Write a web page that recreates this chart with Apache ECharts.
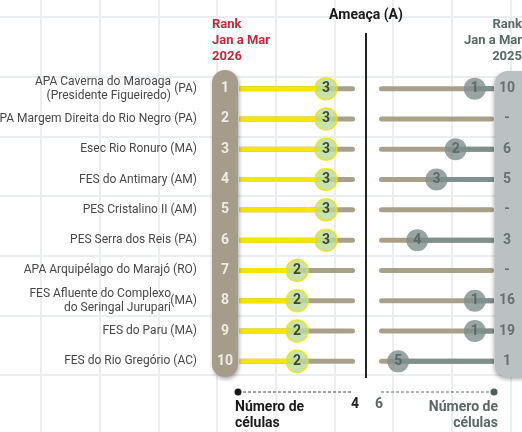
<!DOCTYPE html>
<html>
<head>
<meta charset="utf-8">
<script src="https://cdn.jsdelivr.net/npm/echarts@6/dist/echarts.min.js"></script>
<style>
html,body{margin:0;padding:0;background:#fff}
#main{width:522px;height:432px}
</style>
</head>
<body>
<div id="main"></div>
<script>
// unidades de conservação - ameaça (número de células)
var names = [
	'APA Caverna do Maroaga\n(Presidente Figueiredo)',
	'APA Margem Direita do Rio Negro (PA)',
	'Esec Rio Ronuro (MA)',
	'FES do Antimary (AM)',
	'PES Cristalino II (AM)',
	'PES Serra dos Reis (PA)',
	'APA Arquipélago do Marajó (RO)',
	'FES Afluente do Complexo\ndo Seringal Jurupari',
	'FES do Paru (MA)',
	'FES do Rio Gregório (AC)'
];
var sideTags = ['(PA)', '', '', '', '', '', '', '(MA)', '', ''];
var rank2026 = ['1', '2', '3', '4', '5', '6', '7', '8', '9', '10'];
var ameaca2026 = [3, 3, 3, 3, 3, 3, 2, 2, 2, 2];
var rank2025 = ['10', '-', '6', '5', '-', '3', '-', '16', '19', '1'];
var ameaca2025 = [1, '-', 2, 3, '-', 4, '-', 1, 1, 5];
var maxLeft = 4;
var maxRight = 6;

var TAN = '#a9a08a', YELLOW = '#f6e500', GREEN = '#b8dc9a', SLATE = '#7e8f8c', DARK = '#4f5d5b';
var FONT = 'Roboto';

var dom = document.getElementById('main');
var myChart = echarts.init(dom);

var dots2025 = [];
ameaca2025.forEach(function (v, i) {
	if (v !== '-') dots2025.push([v, i]);
});

var option = {
	animation: false,
	textStyle: { fontFamily: FONT },
	grid: [
		{ left: 210, top: 73.5, width: 145, height: 303, outerBoundsMode: 'none', containLabel: false },
		{ left: 379, top: 73.5, width: 153.3, height: 303, outerBoundsMode: 'none', containLabel: false },
		{ left: -17.7, top: -42.7, width: 587, height: 537.3, outerBoundsMode: 'none', containLabel: false }
	],
	xAxis: [
		{
			gridIndex: 0, type: 'value', min: -1, max: maxLeft, interval: 1,
			splitLine: { show: false }, axisLine: { show: false }, axisTick: { show: false },
			axisLabel: {
				margin: 21, fontSize: 14, fontWeight: 'bold', color: '#222',
				formatter: function (v) { return v === maxLeft ? String(v) : ''; }
			}
		},
		{
			gridIndex: 1, type: 'value', min: -2, max: maxRight, interval: 1, inverse: true,
			splitLine: { show: false }, axisLine: { show: false }, axisTick: { show: false },
			axisLabel: {
				margin: 21, fontSize: 14, fontWeight: 'bold', color: '#5a6866',
				formatter: function (v) { return v === maxRight ? String(v) : ''; }
			}
		},
		{
			gridIndex: 2, type: 'value', min: 0, max: 10, interval: 1,
			splitLine: { lineStyle: { color: '#eaeef0', width: 2 } },
			axisLine: { show: false }, axisTick: { show: false }, axisLabel: { show: false }
		}
	],
	yAxis: [
		{
			gridIndex: 0, type: 'category', data: names, inverse: true, position: 'left',
			axisLine: { show: false }, axisTick: { show: false },
			axisLabel: {
				interval: 0, margin: 13,
				formatter: function (v, i) {
					if (v.indexOf('\n') > -1) {
						return v.split('\n').map(function (l) { return '{n|' + l + '}{w| }'; }).join('\n');
					}
					return '{n|' + v + '}';
				},
				rich: {
					n: { fontSize: 12, color: '#474747', lineHeight: 14, fontFamily: FONT },
					w: { width: 26, lineHeight: 14 }
				}
			}
		},
		{
			gridIndex: 0, type: 'category', data: names, inverse: true, position: 'left', offset: 0,
			axisLine: { show: false }, axisTick: { show: false },
			axisLabel: {
				interval: 0, margin: 13, fontSize: 12, color: '#474747',
				formatter: function (v, i) { return v.indexOf('\n') > -1 ? sideTags[i] : ''; }
			}
		},
		{
			gridIndex: 1, type: 'category', data: names, inverse: true,
			axisLine: { show: false }, axisTick: { show: false }, axisLabel: { show: false }
		},
		{
			gridIndex: 2, type: 'value', min: 0, max: 9, interval: 1,
			splitLine: { lineStyle: { color: '#eaeef0', width: 2 } },
			axisLine: { show: false }, axisTick: { show: false }, axisLabel: { show: false }
		}
	],
	series: [
		// 2026 (esquerda)
		{
			type: 'bar', xAxisIndex: 0, yAxisIndex: 0, barWidth: 5, barGap: '-100%',
			data: names.map(function () { return maxLeft; }),
			itemStyle: { color: TAN, borderRadius: 2.5 }
		},
		{
			type: 'bar', xAxisIndex: 0, yAxisIndex: 0, barWidth: 5, barGap: '-100%',
			data: ameaca2026,
			itemStyle: { color: YELLOW }
		},
		{
			type: 'scatter', xAxisIndex: 0, yAxisIndex: 0, symbolSize: 22, z: 10,
			data: ameaca2026.map(function (v, i) { return [v, i]; }),
			itemStyle: { color: GREEN, borderColor: '#f2e100', borderWidth: 1.5 },
			label: { show: true, position: 'inside', fontSize: 14, fontWeight: 'bold', color: '#1e1e1e',
				formatter: function (p) { return p.value[0]; } }
		},
		{
			type: 'scatter', xAxisIndex: 0, yAxisIndex: 0, symbolSize: 1, z: 10,
			data: rank2026.map(function (r, i) { return [-0.48, i]; }),
			itemStyle: { color: 'transparent' },
			label: { show: true, position: 'inside', fontSize: 14, fontWeight: 'bold', color: '#fff',
				formatter: function (p) { return rank2026[p.dataIndex]; } }
		},
		// 2025 (direita)
		{
			type: 'bar', xAxisIndex: 1, yAxisIndex: 2, barWidth: 5, barGap: '-100%',
			data: names.map(function () { return maxRight; }),
			itemStyle: { color: TAN, borderRadius: 2.5 }
		},
		{
			type: 'bar', xAxisIndex: 1, yAxisIndex: 2, barWidth: 5, barGap: '-100%',
			data: ameaca2025,
			itemStyle: { color: SLATE }
		},
		{
			type: 'scatter', xAxisIndex: 1, yAxisIndex: 2, symbolSize: 22, z: 10,
			data: dots2025,
			itemStyle: { color: SLATE },
			label: { show: true, position: 'inside', fontSize: 14, fontWeight: 'bold', color: DARK,
				formatter: function (p) { return p.value[0]; } }
		},
		{
			type: 'scatter', xAxisIndex: 1, yAxisIndex: 2, symbolSize: 1, z: 10,
			data: rank2025.map(function (r, i) { return [-0.68, i]; }),
			itemStyle: { color: 'transparent' },
			label: { show: true, position: 'inside', fontSize: 14, fontWeight: 'bold', color: DARK,
				formatter: function (p) { return rank2025[p.dataIndex]; } }
		}
	],
	graphic: [
		{
			type: 'rect', z: 5, shape: { x: 212, y: 70, width: 26, height: 307, r: 13 },
			style: { fill: '#a59d8a', shadowBlur: 4, shadowColor: 'rgba(0,0,0,0.35)', shadowOffsetX: 1, shadowOffsetY: 2 }
		},
		{
			type: 'rect', z: 5, shape: { x: 495, y: 71, width: 40, height: 306, r: 13 },
			style: { fill: '#b9c1c3', shadowBlur: 4, shadowColor: 'rgba(0,0,0,0.35)', shadowOffsetX: -1, shadowOffsetY: 2 }
		},
		{
			type: 'line', z: 5, shape: { x1: 366, y1: 33, x2: 366, y2: 378 },
			style: { stroke: '#222', lineWidth: 2 }
		},
		{
			type: 'text', z: 5, x: 212, y: 17,
			style: { text: 'Rank\nJan a Mar\n2026', fill: '#c8283a', font: 'bold 13px Roboto', lineHeight: 16 }
		},
		{
			type: 'text', z: 5, x: 366, y: 8,
			style: { text: 'Ameaça (A)', fill: '#1a1a1a', font: 'bold 14px Roboto', align: 'center' }
		},
		{
			type: 'text', z: 5, x: 522, y: 17,
			style: { text: 'Rank\nJan a Mar\n2025', fill: '#5a6866', font: 'bold 13px Roboto', lineHeight: 16, align: 'right' }
		},
		{
			type: 'line', z: 5, shape: { x1: 238, y1: 392, x2: 352, y2: 392 },
			style: { stroke: '#444', lineWidth: 1, lineDash: [3, 2] }
		},
		{
			type: 'circle', z: 5, shape: { cx: 238, cy: 392, r: 3.5 },
			style: { fill: '#1a1a1a' }
		},
		{
			type: 'text', z: 5, x: 235, y: 399,
			style: { text: 'Número de\ncélulas', fill: '#1a1a1a', font: 'bold 14px Roboto', lineHeight: 16 }
		},
		{
			type: 'line', z: 5, shape: { x1: 381, y1: 392, x2: 494, y2: 392 },
			style: { stroke: '#5a6866', lineWidth: 1, lineDash: [3, 2] }
		},
		{
			type: 'circle', z: 5, shape: { cx: 494, cy: 392, r: 3.5 },
			style: { fill: DARK }
		},
		{
			type: 'text', z: 5, x: 498, y: 399,
			style: { text: 'Número de\ncélulas', fill: '#5a6866', font: 'bold 14px Roboto', lineHeight: 16, align: 'right' }
		}
	]
};

if (option && typeof option === "object") {
	myChart.setOption(option, true);
}
</script>
</body>
</html>
